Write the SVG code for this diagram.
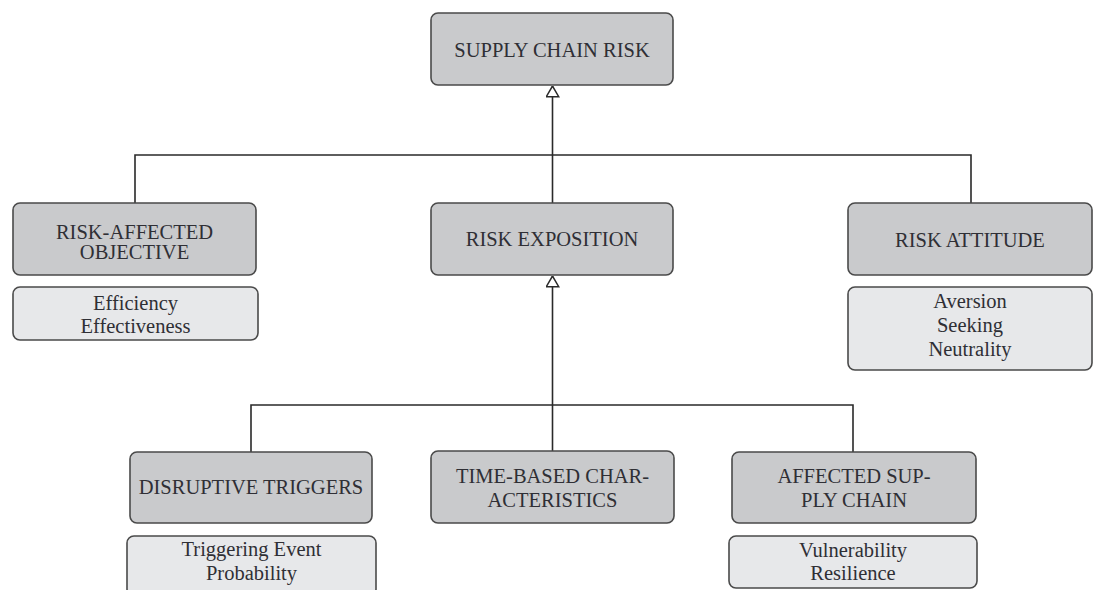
<svg xmlns="http://www.w3.org/2000/svg" width="1093" height="590" viewBox="0 0 1093 590">
<style>
.hdr{fill:#c9cacc;stroke:#4a4a4a;stroke-width:1.6}
.sub{fill:#e7e8ea;stroke:#4a4a4a;stroke-width:1.6}
.t{font-size:20.5px;fill:#2f2f35;text-anchor:middle}
.c{fill:none;stroke:#2a2a2a;stroke-width:1.6}
</style>
<defs>
<marker id="tri" viewBox="0 0 12 14" refX="11.5" refY="7" markerWidth="12" markerHeight="14" markerUnits="userSpaceOnUse" orient="auto">
<path d="M0.8,0.8 L11.5,7 L0.8,13.2 Z" fill="#ffffff" stroke="#2a2a2a" stroke-width="1.5"/>
</marker>
</defs>
<rect width="1093" height="590" fill="#ffffff"/>
<g id="connectors">
<path class="c" d="M135,203 V155 H971 V203"/>
<path class="c" d="M552.5,203 V86" marker-end="url(#tri)"/>
<path class="c" d="M251,452 V405 H853 V452"/>
<path class="c" d="M552.5,451 V276" marker-end="url(#tri)"/>
</g>
<g font-family="Liberation Serif, serif">
<g id="supply-chain-risk">
<rect class="hdr" x="431" y="13" width="242" height="72" rx="7"/>
<text class="t" x="552" y="57">SUPPLY CHAIN RISK</text>
</g>
<g id="risk-affected-objective">
<rect class="hdr" x="13" y="203" width="243" height="72" rx="7"/>
<text class="t" x="134.5" y="239">RISK-AFFECTED</text>
<text class="t" x="134.5" y="259">OBJECTIVE</text>
</g>
<g id="risk-affected-objective-items">
<rect class="sub" x="13" y="287" width="245" height="53" rx="7"/>
<text class="t" x="135.5" y="310">Efficiency</text>
<text class="t" x="135.5" y="333">Effectiveness</text>
</g>
<g id="risk-exposition">
<rect class="hdr" x="431" y="203" width="242" height="72" rx="7"/>
<text class="t" x="552" y="246">RISK EXPOSITION</text>
</g>
<g id="risk-attitude">
<rect class="hdr" x="848" y="203" width="244" height="72" rx="7"/>
<text class="t" x="970" y="247">RISK ATTITUDE</text>
</g>
<g id="risk-attitude-items">
<rect class="sub" x="848" y="287" width="244" height="83" rx="7"/>
<text class="t" x="970" y="308">Aversion</text>
<text class="t" x="970" y="332">Seeking</text>
<text class="t" x="970" y="356">Neutrality</text>
</g>
<g id="disruptive-triggers">
<rect class="hdr" x="130" y="452" width="242" height="71" rx="7"/>
<text class="t" x="251" y="494">DISRUPTIVE TRIGGERS</text>
</g>
<g id="disruptive-triggers-items">
<rect class="sub" x="127" y="536" width="249" height="60" rx="7"/>
<text class="t" x="251.5" y="556">Triggering Event</text>
<text class="t" x="251.5" y="580">Probability</text>
</g>
<g id="time-based-characteristics">
<rect class="hdr" x="431" y="451" width="243" height="72" rx="7"/>
<text class="t" x="552.5" y="483">TIME-BASED CHAR-</text>
<text class="t" x="552.5" y="507">ACTERISTICS</text>
</g>
<g id="affected-supply-chain">
<rect class="hdr" x="732" y="452" width="244" height="71" rx="7"/>
<text class="t" x="854" y="483">AFFECTED SUP-</text>
<text class="t" x="854" y="507">PLY CHAIN</text>
</g>
<g id="affected-supply-chain-items">
<rect class="sub" x="729" y="536" width="248" height="52" rx="7"/>
<text class="t" x="853" y="557">Vulnerability</text>
<text class="t" x="853" y="580">Resilience</text>
</g>
</g>
</svg>
